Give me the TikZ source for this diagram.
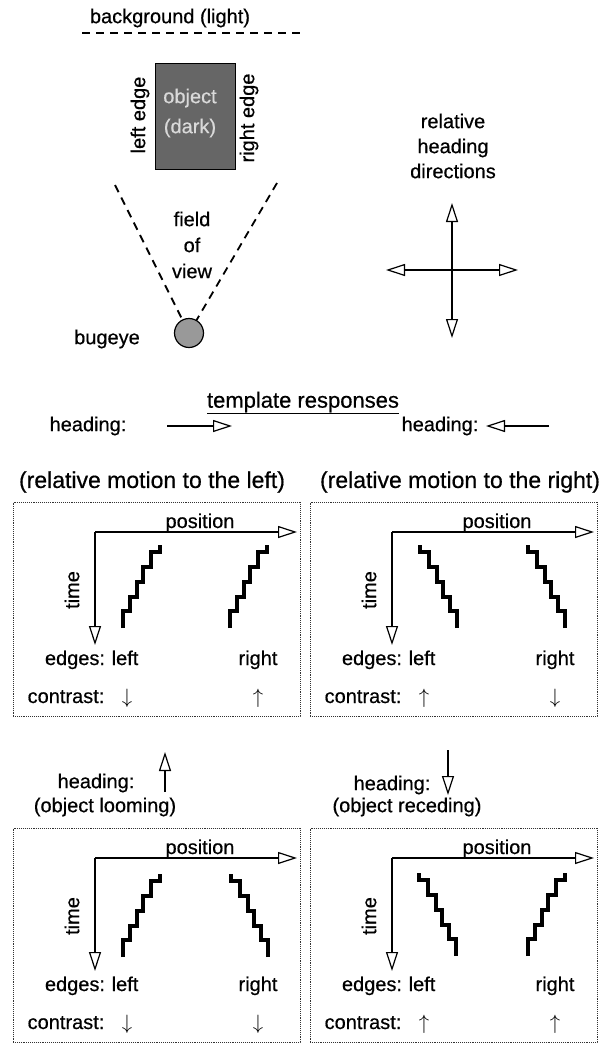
\documentclass[tikz,border=0pt]{standalone}
\usepackage{fontspec}
\setmainfont{Liberation Sans}[FakeBold=0.5]
\usetikzlibrary{arrows.meta}
\begin{document}
\begin{tikzpicture}[x=1pt,y=-1pt,
        every node/.style={font=\fontsize{20}{24}\selectfont,inner sep=0pt},
        big/.style={font=\fontsize{23}{28}\selectfont},
        openarrow/.style={-{Triangle[open,length=19pt,width=12pt]},line width=1.2pt},
        fov/.style={line width=1.8pt,dash pattern=on 8pt off 6pt},
        box/.style={draw=black!80,densely dotted,line width=0.9pt},
        stair/.style={line width=3.8pt},
        stairs/.pic={\draw[stair] (0,0) -- ++(0,-17) -- ++(7,0) -- ++(0,-14) -- ++(7,0)
            -- ++(0,-15) -- ++(6,0) -- ++(0,-15) -- ++(8,0) -- ++(0,-15) -- ++(9,0) -- ++(0,-7);},
        panel/.pic={
            \node[box,minimum width=287pt,minimum height=214pt] (-box) at (156.5,609) {};
            \coordinate (-o) at (95,532);
            \coordinate (-x) at (297,532);
            \coordinate (-t) at (95,645);
            \draw[openarrow] (-o) -- (-x);
            \draw[openarrow] (-o) -- (-t);
            \node[anchor=base] (-pos) at (200,528) {position};
            \node[rotate=90] (-time) at (72,590) {time};
            \node[anchor=base] (-edges) at (75,665) {edges:};
            \node[anchor=base] (-left) at (125,665) {left};
            \node[anchor=base] (-right) at (258,665) {right};
            \node[anchor=base] (-con) at (66,703) {contrast:};}]
\useasboundingbox (0,0) rectangle (605,1047);

% scene: object in front of the eye
\node (bg) at (170,18) {background (light)};
\coordinate (bgl) at (82,33);
\coordinate (bgr) at (300,33);
\draw[fov] (bgl) -- (bgr);
\node[draw,line width=1pt,fill=black!60,minimum width=80pt,minimum height=106pt] (obj) at (195,116) {};
\node[text=black!15] (objt) at (190,98) {object};
\node[text=black!15] (objd) at (190,128) {(dark)};
\node[rotate=90] (le) at (140,115) {left edge};
\node[rotate=90] (re) at (249,118) {right edge};
\node[circle,draw,line width=1.2pt,fill=black!40,minimum size=29pt] (eye) at (189,333) {};
\coordinate (fovl) at (115,185);
\coordinate (fovr) at (277,183);
\draw[fov] (fovl) -- (eye);
\draw[fov] (fovr) -- (eye);
\node[align=center,font=\fontsize{20}{26}\selectfont] (fv) at (192,245) {field\\of\\view};
\node (bug) at (107,339) {bugeye};

% heading directions
\node[align=center,font=\fontsize{20}{25}\selectfont] (rhd) at (453,146) {relative\\heading\\directions};
\coordinate (hc) at (452,270);
\coordinate (hu) at (452,203);
\coordinate (hd) at (452,338);
\coordinate (hl) at (386,270);
\coordinate (hr) at (518,270);
\draw[openarrow] (hc) -- (hu);
\draw[openarrow] (hc) -- (hd);
\draw[openarrow] (hc) -- (hl);
\draw[openarrow] (hc) -- (hr);

\node[font=\fontsize{22}{26}\selectfont] (tr) at (303,403) {\underline{template responses}};

% headings above the panels
\node (h1) at (88,426) {heading:};
\coordinate (h1a) at (167,426);
\coordinate (h1b) at (232,426);
\draw[openarrow] (h1a) -- (h1b);
\node[big] (m1) at (152,482) {(relative motion to the left)};
\node (h2) at (440,426) {heading:};
\coordinate (h2a) at (549,426);
\coordinate (h2b) at (486,426);
\draw[openarrow] (h2a) -- (h2b);
\node[big] (m2) at (460,482) {(relative motion to the right)};
\node (h3) at (96,783) {heading:};
\coordinate (h3a) at (165,792);
\coordinate (h3b) at (165,752);
\draw[openarrow] (h3a) -- (h3b);
\node (m3) at (105,807) {(object looming)};
\node (h4) at (392,785) {heading:};
\coordinate (h4a) at (448,750);
\coordinate (h4b) at (448,795);
\draw[openarrow] (h4a) -- (h4b);
\node (m4) at (407,807) {(object receding)};

% panels
\pic (p1) at (0,0) {panel};
\pic at (123,628) {stairs};
\pic at (230,628) {stairs};
\node[anchor=base] (p1cl) at (127,703) {$\downarrow$};
\node[anchor=base] (p1cr) at (258,703) {$\uparrow$};

\pic (p2) at (297,0) {panel};
\pic[xscale=-1] at (457,628) {stairs};
\pic[xscale=-1] at (565,628) {stairs};
\node[anchor=base] (p2cl) at (424,703) {$\uparrow$};
\node[anchor=base] (p2cr) at (555,703) {$\downarrow$};

\pic (p3) at (0,326) {panel};
\pic at (123,957) {stairs};
\pic[xscale=-1] at (268,957) {stairs};
\node[anchor=base] (p3cl) at (127,1029) {$\downarrow$};
\node[anchor=base] (p3cr) at (258,1029) {$\downarrow$};

\pic (p4) at (297,326) {panel};
\pic[xscale=-1] at (456,956) {stairs};
\pic at (528,956) {stairs};
\node[anchor=base] (p4cl) at (424,1029) {$\uparrow$};
\node[anchor=base] (p4cr) at (555,1029) {$\uparrow$};
\end{tikzpicture}
\end{document}
